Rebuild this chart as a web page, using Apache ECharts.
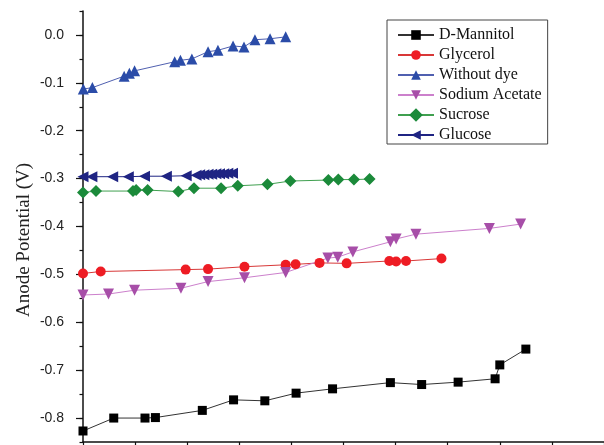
<!DOCTYPE html>
<html>
<head>
<meta charset="utf-8">
<script src="https://cdn.jsdelivr.net/npm/echarts@6/dist/echarts.min.js"></script>
<style>html,body{margin:0;padding:0;background:#fff}#c{width:604px;height:445px}</style>
</head>
<body>
<div id="c"></div>
<script>
// Data (x in axis-tick units, y in V)
const seriesNames = ['D-Mannitol', 'Glycerol', 'Without dye', 'Sodium Acetate', 'Sucrose', 'Glucose'];

const mannitolX = [0, 0.59, 1.19, 1.39, 2.29, 2.89, 3.49, 4.09, 4.79, 5.90, 6.50, 7.20, 7.91, 8.00, 8.50];
const mannitolY = [-0.827, -0.800, -0.800, -0.799, -0.784, -0.762, -0.764, -0.748, -0.739, -0.726, -0.730, -0.725, -0.718, -0.689, -0.656];

const glycerolX = [0, 0.34, 1.97, 2.40, 3.10, 3.89, 4.08, 4.54, 5.06, 5.88, 6.01, 6.20, 6.88];
const glycerolY = [-0.498, -0.494, -0.490, -0.489, -0.484, -0.480, -0.479, -0.476, -0.477, -0.472, -0.473, -0.472, -0.467];

const noDyeX = [0.006, 0.18, 0.79, 0.89, 0.99, 1.76, 1.87, 2.09, 2.40, 2.59, 2.88, 3.09, 3.30, 3.59, 3.89];
const noDyeY = [-0.113, -0.110, -0.086, -0.080, -0.075, -0.056, -0.053, -0.050, -0.035, -0.032, -0.023, -0.025, -0.010, -0.008, -0.004];

const acetateX = [0, 0.49, 0.99, 1.88, 2.40, 3.10, 3.89, 4.70, 4.89, 5.18, 5.90, 6.01, 6.39, 7.80, 8.40];
const acetateY = [-0.543, -0.541, -0.533, -0.529, -0.515, -0.507, -0.496, -0.466, -0.464, -0.453, -0.432, -0.426, -0.416, -0.404, -0.395];

const sucroseX = [0, 0.25, 0.96, 1.02, 1.24, 1.83, 2.13, 2.65, 2.97, 3.54, 3.98, 4.71, 4.90, 5.20, 5.50];
const sucroseY = [-0.329, -0.326, -0.326, -0.324, -0.324, -0.327, -0.320, -0.320, -0.315, -0.312, -0.305, -0.303, -0.302, -0.302, -0.301];

const glucoseX = [0, 0.17, 0.57, 0.87, 1.18, 1.60, 1.98, 2.17, 2.24, 2.32, 2.40, 2.47, 2.55, 2.62, 2.70, 2.78, 2.87];
const glucoseY = [-0.296, -0.296, -0.296, -0.296, -0.295, -0.295, -0.294, -0.293, -0.292, -0.292, -0.291, -0.291, -0.290, -0.290, -0.290, -0.289, -0.289];

const yTickLabels = ['0.0', '-0.1', '-0.2', '-0.3', '-0.4', '-0.5', '-0.6', '-0.7', '-0.8'];

function pairs(xs, ys) { return xs.map((x, i) => [x, ys[i]]); }

const styles = [
  { color: '#000000', line: '#333333', symbol: 'rect', size: 9, rot: 0 },
  { color: '#ee1c24', line: '#d83838', symbol: 'circle', size: 10, rot: 0 },
  { color: '#2b4ca8', line: '#5060b0', symbol: 'triangle', size: 11, rot: 0 },
  { color: '#a74ea8', line: '#cc80cc', symbol: 'triangle', size: 11, rot: 180 },
  { color: '#1b8a3a', line: '#40a050', symbol: 'rect', size: 8.5, rot: 45 },
  { color: '#1f2483', line: '#1f2483', symbol: 'triangle', size: 11, rot: 90 }
];
const datas = [
  pairs(mannitolX, mannitolY), pairs(glycerolX, glycerolY), pairs(noDyeX, noDyeY),
  pairs(acetateX, acetateY), pairs(sucroseX, sucroseY), pairs(glucoseX, glucoseY)
];

const series = seriesNames.map((n, i) => ({
  name: n, type: 'line', xAxisIndex: 0, yAxisIndex: 0,
  data: datas[i], symbol: styles[i].symbol, symbolSize: styles[i].size,
  symbolRotate: styles[i].rot, clip: false, showAllSymbol: true,
  itemStyle: { color: styles[i].color },
  lineStyle: { color: styles[i].line, width: 1 },
  emphasis: { disabled: true }
}));

const chart = echarts.init(document.getElementById('c'), null, { renderer: 'canvas' });
chart.setOption({
  animation: false,
  backgroundColor: '#fff',
  grid: [
    { left: 83, top: 11, width: 526, height: 431 },
    { left: 83, top: 34.94, width: 526, height: 383.11 }
  ],
  legend: {
    orient: 'vertical', left: 387, top: 20,
    padding: [7, 6, 1, 10], itemGap: 4, itemWidth: 36, itemHeight: 12,
    borderColor: '#444', borderWidth: 1, borderRadius: 0,
    textStyle: { fontFamily: 'Liberation Serif', fontSize: 16, color: '#111', lineHeight: 16 },
    data: seriesNames
  },
  xAxis: [
    { type: 'value', gridIndex: 0, min: 0, max: 10, interval: 1,
      axisLine: { show: true, onZero: false, lineStyle: { color: '#111', width: 1.5 } },
      axisTick: { show: true, inside: false, length: 6, lineStyle: { color: '#111', width: 1.2 } },
      axisLabel: { show: false }, splitLine: { show: false } },
    { type: 'value', gridIndex: 1, min: 0, max: 10, show: false }
  ],
  yAxis: [
    { type: 'value', gridIndex: 0, min: -0.85, max: 0.05, interval: 0.05,
      name: 'Anode Potential (V)', nameLocation: 'middle', nameGap: 49, nameRotate: 90,
      nameTextStyle: { fontFamily: 'Liberation Serif', fontSize: 19, color: '#222', padding: [0, 27, 0, 0] },
      axisLine: { show: true, onZero: false, lineStyle: { color: '#111', width: 1.5 } },
      axisTick: { show: true, length: 3.5, lineStyle: { color: '#111', width: 1.2 } },
      axisLabel: { show: false }, splitLine: { show: false } },
    { type: 'value', gridIndex: 1, min: -0.8, max: 0, interval: 0.1,
      axisLine: { show: false },
      axisTick: { show: true, length: 7, lineStyle: { color: '#111', width: 1.2 } },
      axisLabel: { show: true, margin: 19, fontFamily: 'Liberation Sans', fontSize: 14, color: '#222',
        formatter: function (v) { const k = Math.round(-v * 10); return yTickLabels[k] !== undefined ? yTickLabels[k] : ''; } },
      splitLine: { show: false } }
  ],
  series: series
});
</script>
</body>
</html>
